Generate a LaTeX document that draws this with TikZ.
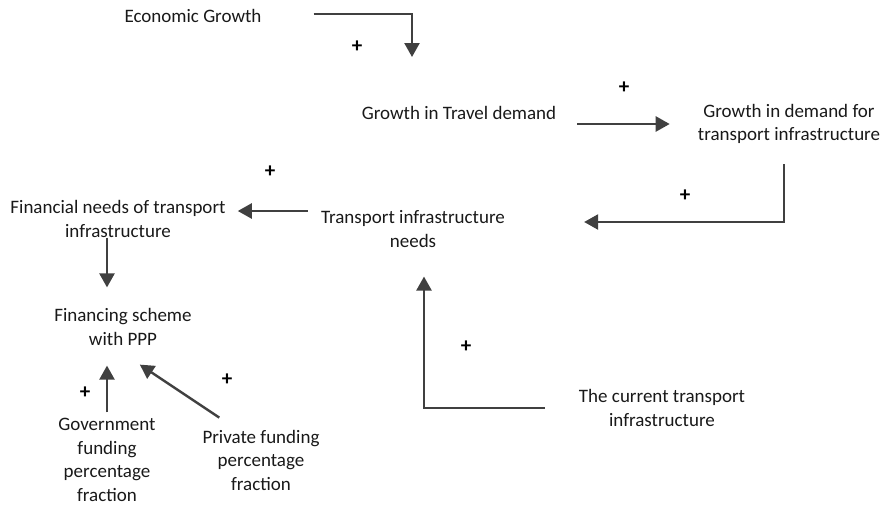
\documentclass[tikz,border=0pt]{standalone}
\usepackage{fontspec}
\setmainfont{Carlito}
\usetikzlibrary{positioning, arrows.meta}

\begin{document}
\begin{tikzpicture}[
        x=1pt, y=-1pt,
        every node/.style={font=\fontsize{19}{23.5}\selectfont},
        txt/.style={inner sep=0pt, align=center, text=black!90},
        arr/.style={draw=black!75, line width=2.4pt, -{Triangle[length=14pt,width=15pt]}},
        plus/.style={inner sep=0pt, font=\fontsize{21}{24}\selectfont\bfseries}
    ]
    \useasboundingbox (0,0) rectangle (889,506);

    \node[txt] (eco) at (193,16) {Economic Growth};
    \node[txt] (travel) at (459,113) {Growth in Travel demand};
    \node[txt] (demand) at (789,124) {Growth in demand for\\transport infrastructure};
    \node[txt] (needs) at (413,229) {Transport infrastructure\\needs};
    \node[txt] (finneeds) at (118,219) {Financial needs of transport\\infrastructure};
    \node[txt] (scheme) at (123,327) {Financing scheme\\with PPP};
    \node[txt] (gov) at (107,460) {Government\\funding\\percentage\\fraction};
    \node[txt] (priv) at (261,460) {Private funding\\percentage\\fraction};
    \node[txt] (current) at (662,408) {The current transport\\infrastructure};

    \node[plus] (p1) at (357,47) {+};
    \node[plus] (p2) at (624,88) {+};
    \node[plus] (p3) at (685,196) {+};
    \node[plus] (p4) at (270,172) {+};
    \node[plus] (p5) at (85,393) {+};
    \node[plus] (p6) at (227,380) {+};
    \node[plus] (p7) at (466,347) {+};

    \draw[arr, shorten <=52pt, shorten >=56pt] ([yshift=2pt]eco.east) -| ([xshift=-47pt]travel.center);
    \draw[arr, shorten <=21pt, shorten >=28pt] (travel.east |- demand.west) -- (demand.west);
    \draw[arr, shorten <=20pt, shorten >=79pt] ([xshift=-5pt]demand.south) |- ([yshift=7pt]needs.east);
    \draw[arr, shorten <=13pt, shorten >=12pt] ([yshift=18pt]needs.west) -- ([yshift=8pt]finneeds.east);
    \draw[arr, shorten <=0pt, shorten >=21pt] ([xshift=-11pt]finneeds.south) -- ([xshift=-16pt]scheme.north);
    \draw[arr, shorten <=6pt, shorten >=20pt] (gov.north) -- (gov.north |- scheme.south);
    \draw[arr] ([xshift=17pt,yshift=12pt]priv.north west) -- ([xshift=-52pt,yshift=-19pt]scheme.south east);
    \draw[arr, shorten <=34pt, shorten >=29pt] (current.west) -| ([xshift=11pt]needs.south);

\end{tikzpicture}
\end{document}
